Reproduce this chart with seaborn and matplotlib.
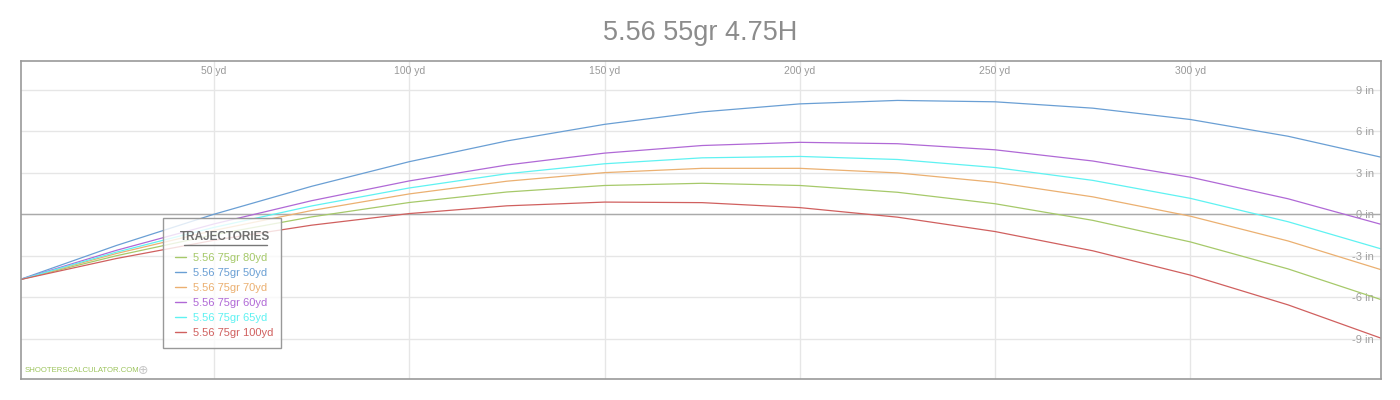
import matplotlib
matplotlib.use('Agg')
import matplotlib.pyplot as plt
import seaborn as sns
import pandas as pd
from matplotlib.lines import Line2D
from matplotlib.patches import Rectangle

# ---- data ----
distance_yd = [0, 25, 50, 75, 100, 125, 150, 175, 200, 225, 250, 275, 300, 325, 350]
traj_80yd = [-4.75, -3.00, -1.48, -0.19, 0.85, 1.61, 2.08, 2.24, 2.08, 1.59, 0.76, -0.44, -2.00, -3.95, -6.28]
traj_50yd = [-4.75, -2.26, 0.00, 2.02, 3.80, 5.30, 6.50, 7.40, 7.98, 8.23, 8.13, 7.67, 6.85, 5.64, 4.05]
traj_70yd = [-4.75, -2.84, -1.17, 0.27, 1.47, 2.39, 3.01, 3.32, 3.32, 2.99, 2.31, 1.26, -0.14, -1.93, -4.11]
traj_60yd = [-4.75, -2.61, -0.70, 0.98, 2.41, 3.56, 4.42, 4.97, 5.20, 5.10, 4.66, 3.85, 2.68, 1.12, -0.82]
traj_65yd = [-4.75, -2.74, -0.95, 0.60, 1.90, 2.93, 3.65, 4.08, 4.18, 3.96, 3.38, 2.45, 1.15, -0.54, -2.60]
traj_100yd = [-4.75, -3.20, -1.88, -0.79, 0.05, 0.61, 0.88, 0.84, 0.48, -0.21, -1.25, -2.64, -4.40, -6.55, -9.08]

series_labels = ["5.56 75gr 80yd", "5.56 75gr 50yd", "5.56 75gr 70yd",
                 "5.56 75gr 60yd", "5.56 75gr 65yd", "5.56 75gr 100yd"]
series_values = [traj_80yd, traj_50yd, traj_70yd, traj_60yd, traj_65yd, traj_100yd]
series_colors = ["#a6c96a", "#6a9fd4", "#ebb071", "#b069d6", "#5ff2f2", "#d0605f"]

x_ticks = [50, 100, 150, 200, 250, 300]
x_tick_labels = ["50 yd", "100 yd", "150 yd", "200 yd", "250 yd", "300 yd"]
y_ticks = [-9, -6, -3, 0, 3, 6, 9]
y_tick_labels = ["-9 in", "-6 in", "-3 in", "0 in", "3 in", "6 in", "9 in"]

title_text = "5.56 55gr 4.75H"
legend_title = "TRAJECTORIES"
watermark = "SHOOTERSCALCULATOR.COM"

# ---- long-form frame ----
rows = []
for lab, vals in zip(series_labels, series_values):
    for d, v in zip(distance_yd, vals):
        rows.append({"distance": d, "drop": v, "load": lab})
df = pd.DataFrame(rows)
palette = dict(zip(series_labels, series_colors))

sns.set_theme(style='white')
plt.rcParams['font.family'] = ['Liberation Sans', 'DejaVu Sans']

W, H = 1400, 400
fig = plt.figure(figsize=(14, 4), dpi=100)
ax = fig.add_axes([21 / W, 21 / H, 1360 / W, 318 / H])

ax.grid(True, color='#e6e6e6', linewidth=1)
ax.set_axisbelow(True)
ax.axhline(0, color='#aaaaaa', linewidth=1, zorder=1)

sns.lineplot(data=df, x='distance', y='drop', hue='load', hue_order=series_labels,
             palette=palette, legend=False, ax=ax, linewidth=0.9, sort=False)

ax.set_xlim(0.6, 348.8)
ax.set_ylim(-11.91, 11.08)
ax.set_xlabel('')
ax.set_ylabel('')

ax.set_xticks(x_ticks)
ax.set_xticklabels(x_tick_labels)
ax.set_yticks(y_ticks)
ax.set_yticklabels(y_tick_labels)

ax.xaxis.set_ticks_position('top')
ax.yaxis.set_ticks_position('right')
ax.tick_params(axis='x', which='both', length=0, pad=-3.5, labelsize=7.5,
               labelcolor='#999999', top=True, labeltop=True, bottom=False, labelbottom=False)
ax.tick_params(axis='y', which='both', length=0, pad=-5, labelsize=8,
               labelcolor='#a0a0a0', right=True, labelright=True, left=False, labelleft=False)
for t in ax.xaxis.get_major_ticks():
    t.label1.set_va('top')
    t.label2.set_va('top')
for t in ax.yaxis.get_major_ticks():
    t.label1.set_ha('right')
    t.label2.set_ha('right')

for sp in ax.spines.values():
    sp.set_color('#9a9a9a')
    sp.set_linewidth(1.2)

# ---- title ----
fig.text(0.5, 1 - 33 / H, title_text, ha='center', va='center', fontsize=19.5, color='#8c8c8c')

# ---- legend (frame, title, underline, entries) ----
box = Rectangle((163 / W, 1 - 348 / H), 118 / W, 130 / H, transform=fig.transFigure,
                facecolor=(1, 1, 1, 0.8), edgecolor='#999999', linewidth=1, zorder=3)
fig.add_artist(box)
fig.text(225 / W, 1 - 237.5 / H, legend_title, ha='center', va='center', fontsize=8.5,
         fontweight='bold', color='#707070', zorder=6)
underline = Line2D([184 / W, 267 / W], [1 - 245 / H, 1 - 245 / H], transform=fig.transFigure,
                   color='#777777', linewidth=1, zorder=6)
fig.add_artist(underline)

handles = [Line2D([0], [0], color=c, linewidth=1) for c in series_colors]
leg = fig.legend(handles, series_labels, loc='upper left',
                 bbox_to_anchor=(175 / W, 1 - 253 / H), bbox_transform=fig.transFigure,
                 frameon=False, fontsize=8, handlelength=1.0, handletextpad=0.6,
                 labelspacing=0.45, borderpad=0, borderaxespad=0)
leg.set_zorder(7)
for txt, c in zip(leg.get_texts(), series_colors):
    txt.set_color(c)

# ---- watermark ----
fig.text(25 / W, 1 - 371 / H, watermark, ha='left', va='center', fontsize=5.6,
         color='#9cc45c')
fig.text(143 / W, 1 - 371 / H, '\u2295', ha='center', va='center', fontsize=9,
         color='#c8c8c8', family=['DejaVu Sans'])

fig.savefig('out.png', dpi=100)
